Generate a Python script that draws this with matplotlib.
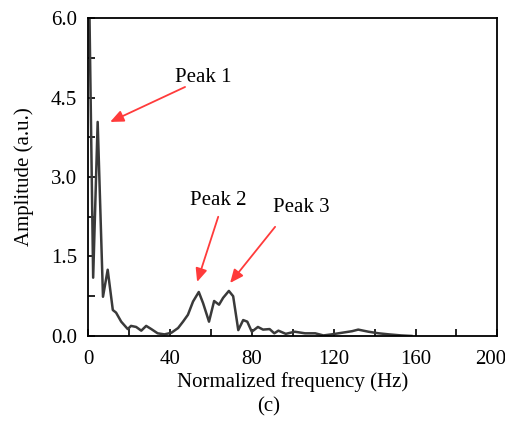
import numpy as np
import matplotlib.pyplot as plt
from matplotlib.ticker import MultipleLocator, FuncFormatter

plt.rcParams["font.family"] = ["Liberation Serif", "DejaVu Serif"]

# ── spectrum ─────────────────────────────────────────────────────────────────
freq = [0.5, 2.5, 4.7, 7.3, 9.6, 12.1, 13.7, 16.2, 19.4, 21.0, 23.5, 26.0,
        28.4, 30.9, 34.0, 37.3, 40.7, 44.0, 46.4, 48.8, 51.3, 54.1, 56.2,
        59.1, 61.6, 64.0, 66.0, 68.8, 70.9, 73.4, 75.8, 77.8, 80.0, 83.0,
        85.5, 88.7, 91.0, 93.0, 96.6, 101.0, 106.0, 111.0, 115.0, 119.0,
        124.0, 129.0, 132.0, 137.0, 142.0, 147.0, 153.0, 158.0]
amp = [6.6, 1.1, 4.04, 0.74, 1.25, 0.49, 0.44, 0.27, 0.13, 0.19, 0.17, 0.10,
       0.19, 0.13, 0.05, 0.03, 0.06, 0.15, 0.27, 0.40, 0.65, 0.83, 0.62,
       0.27, 0.66, 0.59, 0.72, 0.85, 0.75, 0.11, 0.30, 0.27, 0.08, 0.17,
       0.12, 0.13, 0.05, 0.10, 0.04, 0.08, 0.05, 0.05, 0.01, 0.03,
       0.06, 0.09, 0.12, 0.08, 0.05, 0.03, 0.01, 0.0]

# (label, text position, arrow tail, arrow tip)
peaks = [
    ("Peak 1", (56.2, 4.87), (47.4, 4.70), (10.8, 4.04)),
    ("Peak 2", (63.6, 2.55), (63.6, 2.25), (53.3, 1.02)),
    ("Peak 3", (104.2, 2.43), (91.4, 2.06), (69.4, 1.00)),
]

XMAX = 200
FS = 15

fig = plt.figure(figsize=(5.06, 4.21), dpi=100)
ax = fig.add_axes([0.174, 0.202, 0.809, 0.755])

ax.plot(freq, amp, color="#3a3a3a", lw=1.8, solid_joinstyle="round")

for label, txt, tail, tip in peaks:
    ax.text(*txt, label, fontsize=FS, ha="center", va="center")
    ax.annotate("", xy=tip, xytext=tail,
                arrowprops=dict(arrowstyle="-|>,head_length=0.8,head_width=0.35",
                                color="#ff3b3b", lw=1.3, shrinkA=0, shrinkB=0))

ax.set_xlim(0, XMAX)
ax.set_ylim(0, 6.0)
ax.xaxis.set_major_locator(MultipleLocator(40))
ax.xaxis.set_minor_locator(MultipleLocator(20))
# the last label is drawn by hand, shifted left so it stays inside the image
ax.xaxis.set_major_formatter(FuncFormatter(
    lambda v, p: "" if v >= XMAX else f"{v:.0f}"))
ax.yaxis.set_major_locator(MultipleLocator(1.5))
ax.yaxis.set_minor_locator(MultipleLocator(0.75))
ax.yaxis.set_major_formatter(plt.FormatStrFormatter("%.1f"))
ax.tick_params(which="both", direction="in", length=5, width=1.2,
               top=False, right=False, labelsize=FS)
ax.tick_params(axis="x", pad=10)
ax.tick_params(axis="y", pad=8)
for s in ax.spines.values():
    s.set_linewidth(1.3)

ax.annotate(f"{XMAX}", xy=(XMAX, 0), xycoords=("data", "axes fraction"),
            xytext=(-5, -10), textcoords="offset points",
            ha="center", va="top", fontsize=FS)

ax.set_xlabel("Normalized frequency (Hz)", fontsize=FS, labelpad=2)
ax.set_ylabel("Amplitude (a.u.)", fontsize=FS, labelpad=12)
fig.text(0.53, 0.033, "(c)", ha="center", va="center", fontsize=FS)

fig.savefig("out.png", dpi=100)
